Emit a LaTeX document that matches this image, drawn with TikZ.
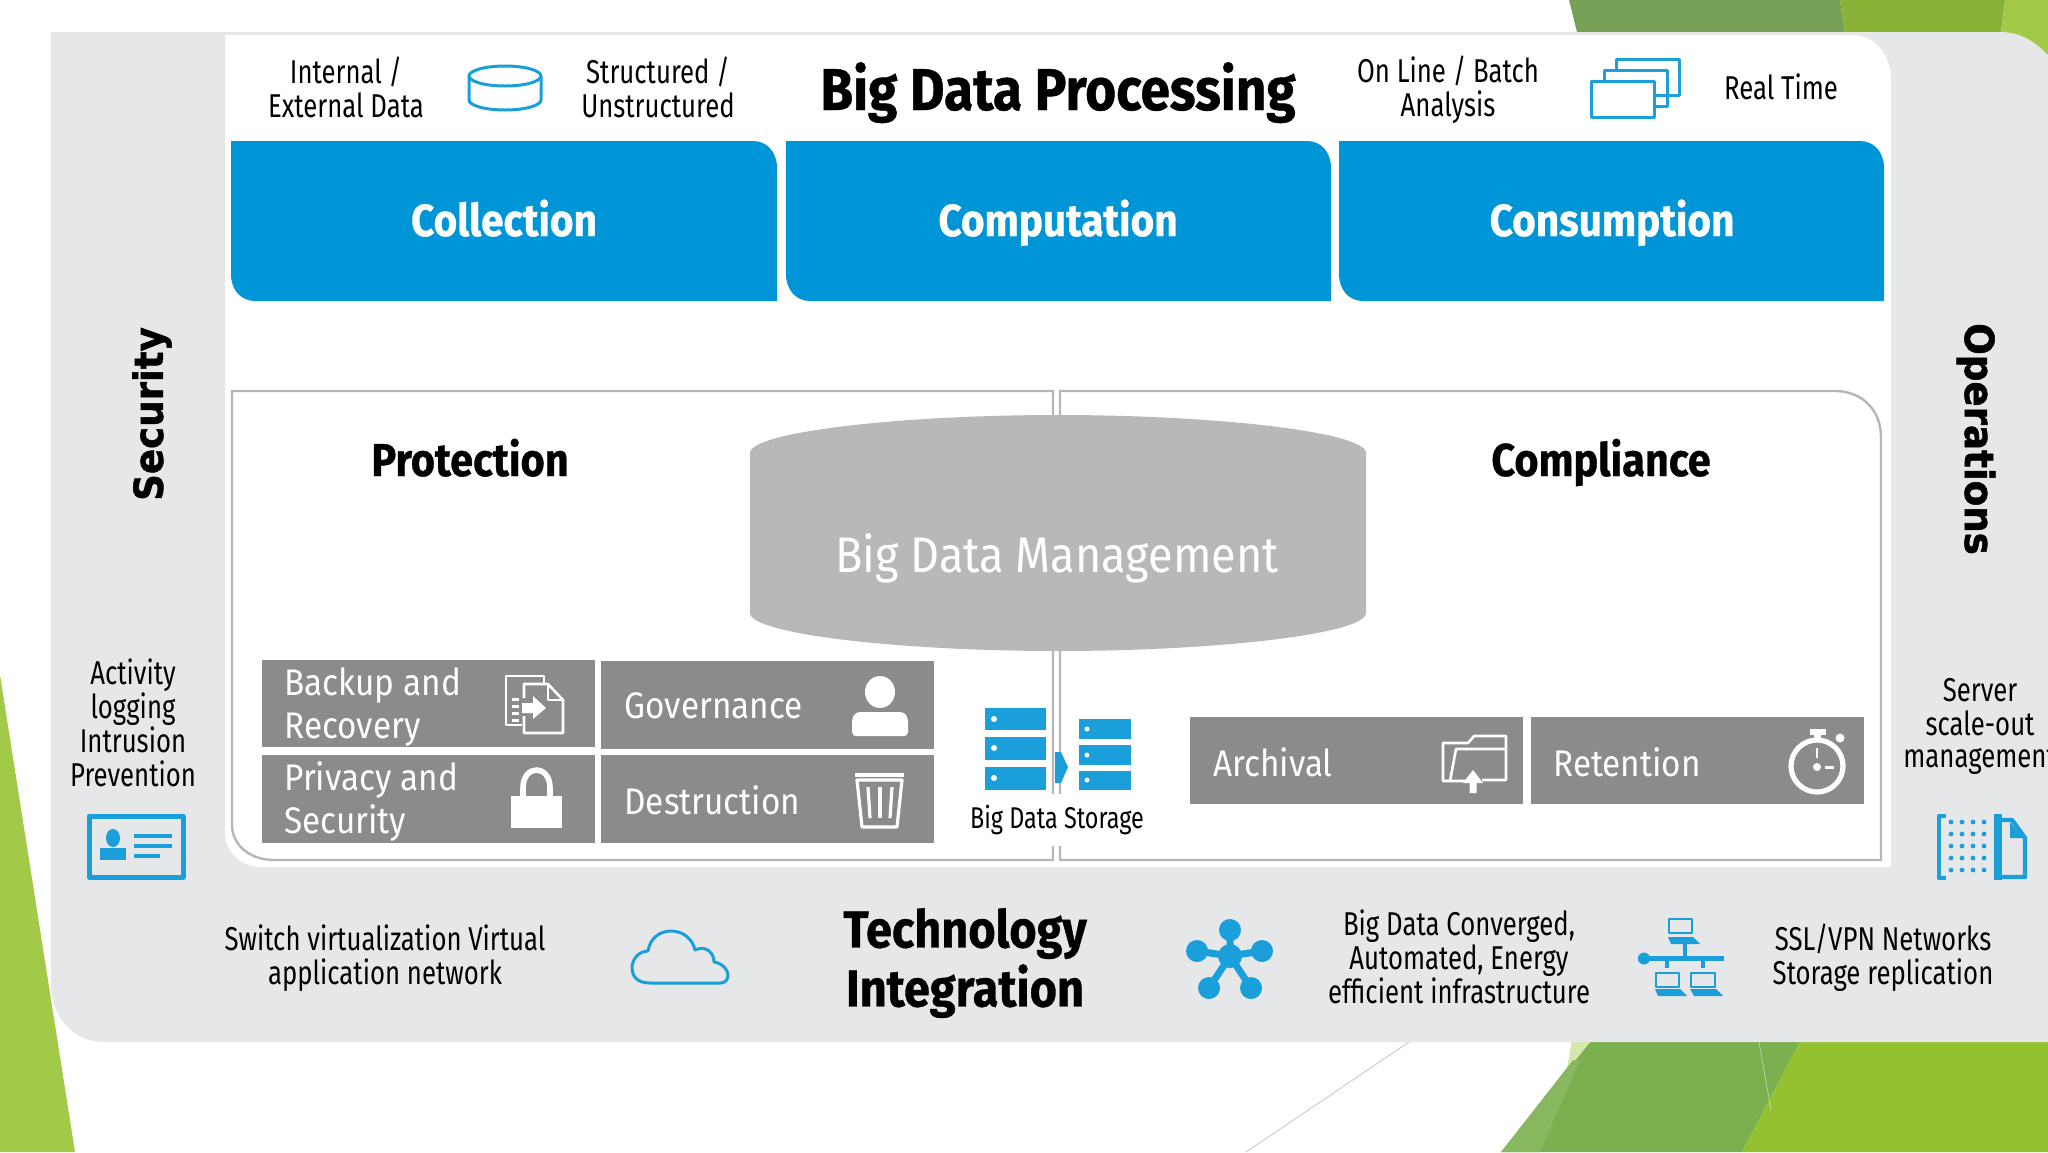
\documentclass[tikz,border=0pt]{standalone}
\usepackage{fontspec}
\setmainfont{Fira Sans}[FakeStretch=0.78]
\newfontfamily\hb{Fira Sans}[FakeStretch=0.9,BoldFeatures={FakeBold=0.7}]
\newfontfamily\wideb{DejaVu Sans}[FakeStretch=0.93,BoldFeatures={FakeBold=1.3}]
\definecolor{hpblue}{HTML}{0095D6}
\definecolor{iconblue}{HTML}{1A9FDB}
\definecolor{panelgrey}{HTML}{E6E7E8}
\definecolor{framegrey}{HTML}{B5B6B8}
\definecolor{cylgrey}{HTML}{B7B8BA}
\definecolor{boxgrey}{HTML}{8A8B8D}
\definecolor{gdark}{HTML}{76A055}
\definecolor{gdarkb}{HTML}{7AB04D}
\definecolor{gbright}{HTML}{88B337}
\definecolor{gbrightb}{HTML}{93C12F}
\definecolor{glight}{HTML}{A2C948}
\tikzset{
  txt/.style={inner sep=0pt,align=center,text=black,font=\fontsize{16.5}{17}\selectfont},
  head/.style={inner sep=0pt,anchor=base,text=black,font=\fontsize{23}{24}\hb\bfseries},
  bluelabel/.style={inner sep=0pt,anchor=base,text=white,font=\fontsize{22.5}{24}\hb\bfseries},
  boxlabel/.style={inner sep=0pt,anchor=west,align=left,text=white,font=\fontsize{18.5}{21.5}\hb},
  sidelabel/.style={inner sep=0pt,text=black,font=\fontsize{20}{22}\wideb\bfseries},
  ico/.style={draw=iconblue,line width=1.5pt,line join=round},
  icof/.style={fill=iconblue},
  wico/.style={draw=white,line width=1.3pt,line join=round},
  wicof/.style={fill=white},
  framel/.style={draw=framegrey,line width=1.2pt},
}
\begin{document}
\begin{tikzpicture}[x=0.5pt,y=-0.5pt]
\path[use as bounding box,clip] (0,0) rectangle (2048,1152);
\fill[white] (0,0) rectangle (2048,1152);
% background greens
\fill[glight] (0,675) -- (75,1152) -- (0,1152) -- cycle;
\fill[gdark] (1569,0) -- (1840,0) -- (1846,40) -- (1579,40) -- cycle;
\fill[gbright] (1840,0) -- (2005,0) -- (2000,40) -- (1846,40) -- cycle;
\fill[glight] (2005,0) -- (2048,0) -- (2048,70) -- (2000,40) -- cycle;
\fill[glight!45] (1572,1040) -- (1592,1040) -- (1565,1080) -- cycle;
\fill[gdarkb] (1592,1040) -- (1801,1040) -- (1742,1152) -- (1501,1152) -- cycle;
\fill[gdarkb!90!white] (1573,1060) -- (1580,1060) -- (1540,1152) -- (1501,1152) -- cycle;
\fill[gbrightb] (1801,1040) -- (2048,1040) -- (2048,1152) -- (1742,1152) -- cycle;
\draw[gdark!40,line width=0.3pt] (1759,1042) -- (1771,1110);
\draw[framegrey!80,line width=0.4pt] (1409,1042) -- (1246,1152);
% panels
\fill[panelgrey] (51,32) -- (2000,32) .. controls (2028,32) and (2048,50) .. (2070,85) -- (2070,1042) -- (104,1042) .. controls (72,1042) and (51,1015) .. (51,985) -- cycle;
\fill[white] (225,35) -- (1853,35) .. controls (1875,35) and (1891,55) .. (1891,80) -- (1891,867) -- (261,867) .. controls (240,867) and (225,850) .. (225,833) -- cycle;
% blue boxes
\foreach \a/\b in {231/777,786/1331,1339/1884}
  \fill[hpblue] (\a,141) -- (\b-24,141) .. controls (\b-10,141) and (\b,152) .. (\b,168) -- (\b,301) -- (\a+24,301) .. controls (\a+10,301) and (\a,290) .. (\a,274) -- cycle;
\node[bluelabel] (collection) at (504,236) {Collection};
\node[bluelabel] (computation) at (1058,236) {Computation};
\node[bluelabel] (consumption) at (1612,236) {Consumption};
% frames
\draw[framel] (232,391) -- (1053,391) -- (1053,860) -- (274,860) .. controls (250,860) and (232,845) .. (232,825) -- cycle;
\draw[framel] (1060,391) -- (1835,391) .. controls (1862,391) and (1881,410) .. (1881,437) -- (1881,860) -- (1060,860) -- cycle;
% cylinder
\fill[cylgrey] (750,453) .. controls (750,432) and (900,415) .. (1058,415) .. controls (1216,415) and (1366,432) .. (1366,453) -- (1366,613) .. controls (1366,634) and (1216,651) .. (1058,651) .. controls (900,651) and (750,634) .. (750,613) -- cycle;
\node[inner sep=0pt,text=white,font=\fontsize{25}{26}\hb] (mgmt) at (1057,558) {Big Data Management};
% top texts
\node[txt] (internal) at (346,87) {Internal /\\External Data};
\node[txt] (structured) at (658,87) {Structured /\\Unstructured};
\node[inner sep=0pt,anchor=base,text=black,font=\fontsize{29.5}{30}\hb\bfseries] (title) at (1058,110) {Big Data Processing};
\node[txt] (online) at (1448,90) {On Line / Batch\\Analysis};
\node[txt] (realtime) at (1781,87) {Real Time};
\node[sidelabel,rotate=90] (security) at (152,414) {Security};
\node[sidelabel,rotate=-90] (operations) at (1976,439) {Operations};
\node[head] (protection) at (470,476) {Protection};
\node[head] (compliance) at (1601,476) {Compliance};
\node[txt,font=\fontsize{16.5}{16.9}\selectfont] (activity) at (133,723) {Activity\\logging\\Intrusion\\Prevention};
\node[txt,anchor=west] (mgmnt) at (1903,760) {management};
\node[txt] (server) at (1980,707) {Server\\scale-out};
\node[txt] (switch) at (385,958) {Switch virtualization Virtual\\application network};
\node[inner sep=0pt,align=center,text=black,font=\fontsize{26}{29.5}\hb\bfseries] (techint) at (965,963) {Technology\\Integration};
\node[txt] (converged) at (1459,957) {Big Data Converged,\\Automated, Energy\\efficient infrastructure};
\node[txt] (ssl) at (1883,958) {SSL/VPN Networks\\Storage replication};
% grey boxes
\fill[boxgrey] (262,660) rectangle (595,747);
\fill[boxgrey] (601,661) rectangle (934,749);
\fill[boxgrey] (262,755) rectangle (595,843);
\fill[boxgrey] (601,755) rectangle (934,843);
\fill[boxgrey] (1190,717) rectangle (1523,804);
\fill[boxgrey] (1531,717) rectangle (1864,804);
\node[boxlabel] (backup) at (284,707) {Backup and\\Recovery};
\node[boxlabel] (governance) at (624,706) {Governance};
\node[boxlabel] (privacy) at (284,801) {Privacy and\\Security};
\node[boxlabel] (destruction) at (624,800) {Destruction};
\node[boxlabel] (archival) at (1213,762) {Archival};
\node[boxlabel] (retention) at (1553,762) {Retention};
% storage
\node[inner sep=0pt,fill=white,minimum width=98pt,minimum height=26pt,font=\fontsize{15}{16}\selectfont] (storage) at (1057,820) {Big Data Storage};
\foreach \t/\e in {708/730,737/760,767/790}
  \fill[iconblue] (985,\t) rectangle (1046,\e);
\foreach \t/\e in {719/739,745/765,771/790}
  \fill[iconblue] (1079,\t) rectangle (1131,\e);
\foreach \t in {729,755,780} \fill[white] (1087,\t) circle (2.5);
\fill[white] (994,719) circle (3) (994,748) circle (3) (994,778) circle (3);
\fill[iconblue] (1055,752) -- (1061,752) -- (1068,767) -- (1061,783) -- (1055,783) -- cycle;
% db icon
\draw[ico] (469,76) -- (469,100) arc[start angle=180,end angle=360,x radius=36,y radius=-10] -- (541,76);
\draw[ico] (505,76) ellipse (36 and 10);
% windows icon
\draw[ico] (1654,95) -- (1679,95) -- (1679,59) -- (1616,59) -- (1616,70);
\draw[ico] (1654,106) -- (1667,106) -- (1667,70) -- (1604,70) -- (1604,81);
\draw[ico] (1591,81) rectangle (1654,117);
% id card
\draw[ico,line width=2.5pt] (89,816) rectangle (183,877);
\fill[icof] (113,838) ellipse (7 and 9);
\fill[icof] (100,848) rectangle (126,860);
\foreach \s/\e/\t in {134/172/836,134/172/846,134/160/856}
  \fill[icof] (\s,\t-2) rectangle (\e,\t+2);
% cloud
\draw[ico] (650,983) .. controls (636,983) and (632,975) .. (632,968) .. controls (632,958) and (640,951) .. (648,951) .. controls (650,938) and (660,931) .. (671,931) .. controls (684,931) and (693,940) .. (695,950) .. controls (705,945) and (714,952) .. (714,962) .. controls (722,963) and (728,970) .. (728,975) .. controls (728,980) and (725,983) .. (720,983) -- cycle;
% datacenter icon
\draw[ico,line width=2.2pt] (1946,816) -- (1939,816) -- (1939,878) -- (1946,878);
\foreach \x in {1951,1962,1973,1984}\foreach \y in {822,834,846,858,870}
  \fill[iconblue] (\x,\y) circle (2.4);
\fill[icof] (1994,814) rectangle (2002,880);
\draw[ico,line width=2.2pt] (2002,820) -- (2012,820) -- (2025,838) -- (2025,877) -- (2002,877);
\fill[icof] (2010,822) -- (2023,838) -- (2010,838) -- cycle;
% star network
\draw[iconblue,line width=3.5pt] (1230,930) -- (1230,956) (1197,951) -- (1230,956) -- (1262,951) (1209,988) -- (1230,956) -- (1251,988);
\foreach \x/\y in {1230/930,1197/951,1262/951,1209/988,1251/988}
  \fill[icof] (\x,\y) circle (11);
\fill[icof] (1230,956) circle (12);
% network icon
\fill[icof] (1638,956) rectangle (1724,961);
\fill[icof] (1644,958.5) circle (6);
\fill[icof] (1683,944) rectangle (1687,958);
\fill[icof] (1665,958) rectangle (1669,968);
\fill[icof] (1701,958) rectangle (1705,968);
\draw[ico,line width=1.1pt] (1669,919) rectangle (1692,933);
\fill[icof] (1668,937) -- (1693,937) -- (1700,944) -- (1671,944) -- cycle;
\draw[ico,line width=1.1pt] (1656,973) rectangle (1679,987);
\fill[icof] (1655,989) -- (1680,989) -- (1687,996) -- (1658,996) -- cycle;
\draw[ico,line width=1.1pt] (1691,973) rectangle (1715,987);
\fill[icof] (1690,989) -- (1716,989) -- (1723,996) -- (1694,996) -- cycle;
% backup icon
\draw[wico] (522,725) -- (506,725) -- (506,676) -- (544,676) -- (544,683);
\draw[wico] (524,716) -- (524,733) -- (563,733) -- (563,700) -- (548,684) -- (524,684) -- (524,698);
\draw[wico,line width=1pt] (548,684) -- (548,700) -- (563,700);
\fill[wicof] (522,703) -- (533,703) -- (533,696) -- (546,708) -- (533,719) -- (533,713) -- (522,713) -- cycle;
\foreach \t in {698,705,712,719} \fill[wicof] (512,\t) rectangle (519,\t+2.5);
% person icon
\fill[wicof] (880,692) ellipse (15 and 16);
\fill[wicof] (860,712) -- (900,712) .. controls (906,712) and (908,718) .. (908,722) -- (908,732) .. controls (908,735) and (906,736) .. (904,736) -- (856,736) .. controls (854,736) and (852,735) .. (852,732) -- (852,722) .. controls (852,718) and (854,712) .. (860,712) -- cycle;
% lock icon
\fill[wicof] (511,796) rectangle (562,828);
\draw[white,line width=2.8pt] (523,796) -- (523,788) .. controls (523,764) and (550,764) .. (550,788) -- (550,796);
% trash icon
\fill[wicof] (855,773) rectangle (904,777);
\draw[wico,line width=1.6pt] (857,780) -- (902,780) -- (897,827) -- (862,827) -- cycle;
\foreach \x/\y in {868/870,880/880,892/890}
  \fill[wicof] (\x-1.6,787) -- (\x+1.6,787) -- (\y+1.6,818) -- (\y-1.6,818) -- cycle;
% folder icon
\draw[wico] (1468,781) -- (1443,781) -- (1443,743) -- (1468,743) -- (1474,736) -- (1506,736) -- (1506,780) -- (1482,780);
\draw[wico] (1450,781) -- (1456,749) -- (1506,749);
\fill[wicof] (1473,770) -- (1483,783) -- (1476.5,783) -- (1476.5,793) -- (1469.5,793) -- (1469.5,783) -- (1463,783) -- cycle;
% stopwatch icon
\draw[wico,line width=2.6pt] (1817,766) circle (26);
\fill[wicof] (1810,729) rectangle (1826,735);
\fill[wicof] (1814,733) rectangle (1821,741);
\fill[wicof] (1840,738) circle (4.5);
\fill[wicof] (1817,767) circle (4);
\fill[wicof] (1816,748) rectangle (1818,758);
\fill[wicof] (1825,766) rectangle (1834,768.5);
\end{tikzpicture}
\end{document}
